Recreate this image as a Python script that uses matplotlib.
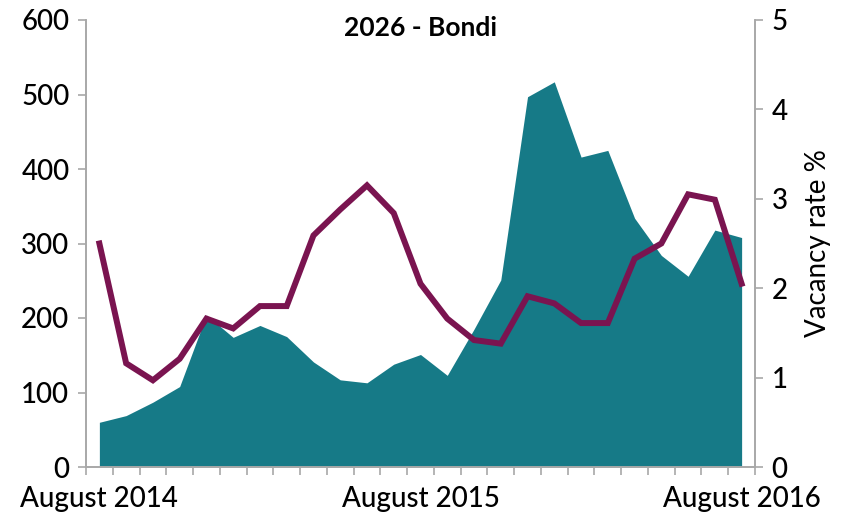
import numpy as np
import matplotlib.pyplot as plt

plt.rcParams['font.family'] = ['Lato', 'DejaVu Sans']
plt.rcParams['font.weight'] = 'medium'

# monthly data, August 2014 - August 2016
listings = [60, 69, 87, 108, 204, 174, 190, 175, 141, 117, 113, 138, 151,
            123, 185, 251, 497, 517, 416, 425, 334, 284, 256, 318, 308]
vacancy = [2.50, 1.16, 0.97, 1.21, 1.66, 1.55, 1.80, 1.80, 2.59, 2.88, 3.15, 2.84, 2.05,
           1.66, 1.42, 1.38, 1.91, 1.83, 1.61, 1.61, 2.33, 2.50, 3.05, 2.99, 2.05]
tick_labels = {0: "August 2014", 12: "August 2015", 24: "August 2016"}

area_color = "#167a87"
line_color = "#7a1450"
spine_color = "#a8a8a8"

x = np.arange(len(listings))

fig = plt.figure(figsize=(8.49, 5.22), dpi=100)
ax = fig.add_axes([86 / 849, 1 - 467 / 522, (755 - 86) / 849, (467 - 20) / 522])
ax2 = ax.twinx()

ax.fill_between(x, 0, listings, color=area_color, linewidth=0)
ax2.plot(x, vacancy, color=line_color, linewidth=4.3, solid_joinstyle='miter')

ax.set_xlim(-0.5, len(listings) - 0.5)
ax.set_ylim(0, 600)
ax.set_yticks(range(0, 601, 100))
ax2.set_ylim(0, 5)
ax2.set_yticks(range(0, 6))

ax.set_xticks(list(tick_labels.keys()))
ax.set_xticklabels(list(tick_labels.values()))
ax.set_xticks(np.arange(-0.5, len(listings), 1), minor=True)
ax.tick_params(axis='x', which='major', length=0, pad=14, labelsize=20)
ax.tick_params(axis='x', which='minor', length=6, color=spine_color, width=1.2)
ax.tick_params(axis='y', length=6, color=spine_color, width=1.2, labelsize=20, pad=6)
ax2.tick_params(axis='y', length=6, color=spine_color, width=1.2, labelsize=20, pad=6)

for a in (ax, ax2):
    a.spines['top'].set_visible(False)
    for s in ('left', 'right', 'bottom'):
        a.spines[s].set_color(spine_color)
        a.spines[s].set_linewidth(1.2)

ax2.set_ylabel("Vacancy rate %", fontsize=20, labelpad=12)
ax.set_title("2026 - Bondi", fontsize=19, fontweight='bold', y=0.945)

fig.savefig("out.png", dpi=100)
